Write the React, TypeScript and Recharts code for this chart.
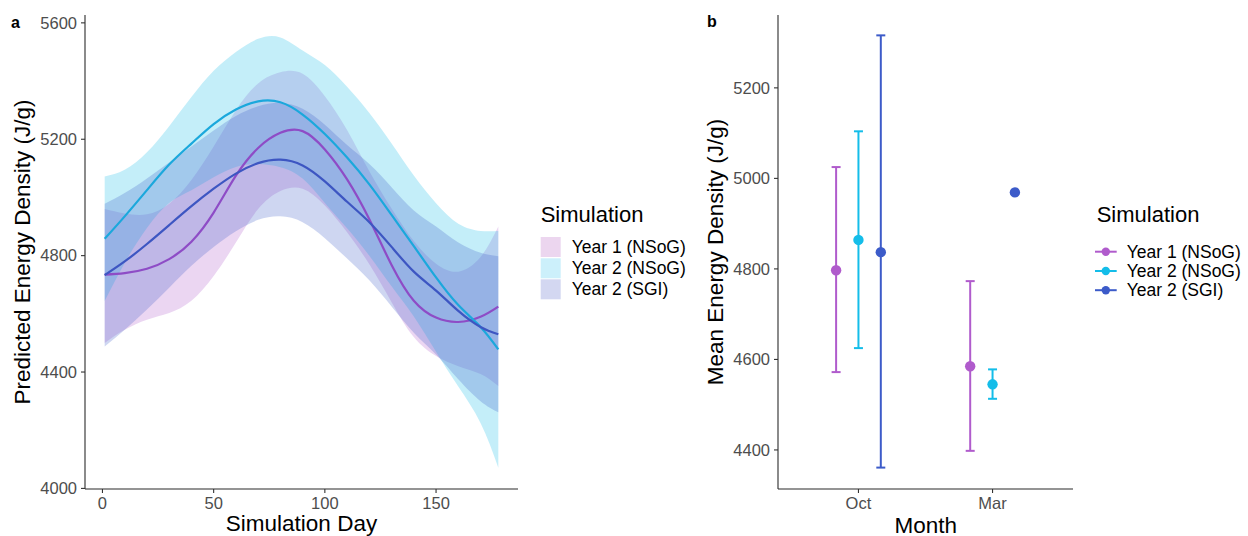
import React from "react";
import { ComposedChart, Area, Line, Scatter, ErrorBar, XAxis, YAxis } from "recharts";

const FONT = "'Liberation Sans', Arial, Helvetica, sans-serif";

// ---------- Panel a: smoothed predictions ----------
const days = [1, 10, 20, 30, 40, 50, 60, 70, 80, 90, 100, 110, 120, 130, 140, 150, 160, 170, 178];
const year1Fit = [4735, 4740, 4755, 4788, 4848, 4948, 5075, 5170, 5222, 5228, 5165, 5062, 4925, 4768, 4645, 4587, 4572, 4590, 4625];
const year1Lo = [4500, 4545, 4580, 4603, 4645, 4730, 4845, 4960, 5022, 5030, 4972, 4880, 4770, 4640, 4520, 4455, 4420, 4393, 4352];
const year1Hi = [4960, 4945, 4942, 4978, 5060, 5175, 5300, 5392, 5430, 5425, 5348, 5232, 5090, 4962, 4850, 4772, 4745, 4795, 4900];
const year2Fit = [4858, 4935, 5025, 5113, 5185, 5252, 5302, 5330, 5327, 5285, 5218, 5137, 5045, 4940, 4833, 4725, 4630, 4555, 4478];
const year2Lo = [4644, 4775, 4895, 4981, 5025, 5069, 5105, 5115, 5104, 5065, 4981, 4894, 4800, 4695, 4591, 4470, 4350, 4225, 4071];
const year2Hi = [5072, 5095, 5155, 5245, 5345, 5435, 5500, 5545, 5550, 5505, 5455, 5380, 5290, 5185, 5075, 4980, 4910, 4885, 4885];
const sgiFit = [4733, 4780, 4840, 4905, 4970, 5030, 5082, 5118, 5130, 5110, 5055, 4985, 4915, 4830, 4745, 4680, 4610, 4555, 4530];
const sgiLo = [4488, 4545, 4615, 4690, 4765, 4830, 4884, 4923, 4935, 4915, 4860, 4790, 4715, 4625, 4535, 4460, 4375, 4300, 4262];
const sgiHi = [4978, 5015, 5065, 5120, 5175, 5230, 5280, 5313, 5325, 5305, 5250, 5180, 5115, 5035, 4955, 4900, 4845, 4810, 4798];

const dayTicks = [0, 50, 100, 150];
const predTicks = [4000, 4400, 4800, 5200, 5600];

// ---------- Panel b: monthly means ----------
const months = ["Oct", "Mar"];
const year1Mean = [4797, 4585];
const year1MeanLo = [4572, 4398];
const year1MeanHi = [5025, 4773];
const year2Mean = [4864, 4545];
const year2MeanLo = [4625, 4513];
const year2MeanHi = [5104, 4578];
const sgiMean = [4837, 4969];
const sgiMeanLo: (number | null)[] = [4361, null];
const sgiMeanHi: (number | null)[] = [5316, null];
const meanTicks = [4400, 4600, 4800, 5000, 5200];

const seriesNames = ["Year 1 (NSoG)", "Year 2 (NSoG)", "Year 2 (SGI)"];
const pointColors = ["#b05bcc", "#14bde9", "#3c5bc9"];
const lineColors = ["#8e4cc6", "#1ba8dc", "#3d56c2"];
const legendFills = ["#ecd6ef", "#ccf0fb", "#d3d7f1"];

const curveRows = days.map((d, i) => ({
  day: d,
  y1: year1Fit[i],
  y1Band: [year1Lo[i], year1Hi[i]],
  y2: year2Fit[i],
  y2Band: [year2Lo[i], year2Hi[i]],
  sgi: sgiFit[i],
  sgiBand: [sgiLo[i], sgiHi[i]],
}));

const dodge = [-1 / 6, 0, 1 / 6];
function buildPoints(mean: number[], lo: (number | null)[], hi: (number | null)[], k: number) {
  return months.map((m, i) => ({
    x: i + 1 + dodge[k],
    y: mean[i],
    err: lo[i] == null || hi[i] == null ? null : [mean[i] - (lo[i] as number), (hi[i] as number) - mean[i]],
  }));
}
const pointSets = [
  buildPoints(year1Mean, year1MeanLo, year1MeanHi, 0),
  buildPoints(year2Mean, year2MeanLo, year2MeanHi, 1),
  buildPoints(sgiMean, sgiMeanLo, sgiMeanHi, 2),
];

const tickStyle = { fill: "#4d4d4d", fontSize: 16.5, fontFamily: FONT };
const axisLine = { stroke: "#2b2b2b", strokeWidth: 1.1 };
const tickLine = { stroke: "#333333", strokeWidth: 1.1 };

export default function App() {
  const bandKeys = ["y1Band", "y2Band", "sgiBand"];
  const lineKeys = ["y1", "y2", "sgi"];
  return (
    <div style={{ position: "absolute", left: 0, top: 0, width: 1248, height: 536, background: "#ffffff", fontFamily: FONT }}>
      <div style={{ position: "absolute", left: 0, top: 0 }}>
        <ComposedChart width={525} height={536} data={curveRows} margin={{ top: 15, right: 7, bottom: 0, left: 0 }}>
          <XAxis
            type="number"
            dataKey="day"
            domain={[-7.85, 186.85]}
            allowDataOverflow
            ticks={dayTicks}
            height={47}
            tickSize={4}
            tickMargin={4}
            tick={tickStyle}
            axisLine={axisLine}
            tickLine={tickLine}
          />
          <YAxis
            type="number"
            domain={[3998, 5627]}
            allowDataOverflow
            ticks={predTicks}
            width={85}
            tickSize={4}
            tickMargin={4}
            tick={tickStyle}
            axisLine={axisLine}
            tickLine={tickLine}
          />
          {bandKeys.map((k, i) => (
            <Area
              key={k}
              dataKey={k}
              type="natural"
              stroke="none"
              fill={pointColors[i]}
              fillOpacity={0.25}
              isAnimationActive={false}
              activeDot={false}
            />
          ))}
          {lineKeys.map((k, i) => (
            <Line
              key={k}
              dataKey={k}
              type="natural"
              stroke={lineColors[i]}
              strokeWidth={2.2}
              dot={false}
              activeDot={false}
              isAnimationActive={false}
            />
          ))}
        </ComposedChart>
      </div>

      <div style={{ position: "absolute", left: 690, top: 0 }}>
        <ComposedChart width={390} height={536} margin={{ top: 15, right: 7, bottom: 0, left: 0 }}>
          <XAxis
            type="number"
            dataKey="x"
            domain={[0.4, 2.6]}
            allowDataOverflow
            ticks={[1, 2]}
            tickFormatter={(v: number) => months[Math.round(v) - 1]}
            height={47}
            tickSize={4}
            tickMargin={4}
            tick={tickStyle}
            axisLine={axisLine}
            tickLine={tickLine}
          />
          <YAxis
            type="number"
            dataKey="y"
            domain={[4313.7, 5361]}
            allowDataOverflow
            ticks={meanTicks}
            width={88}
            tickSize={4}
            tickMargin={4}
            tick={tickStyle}
            axisLine={axisLine}
            tickLine={tickLine}
          />
          {pointSets.map((pts, i) => (
            <Scatter
              key={seriesNames[i]}
              name={seriesNames[i]}
              data={pts}
              isAnimationActive={false}
              shape={(p: any) => <circle cx={p.cx} cy={p.cy} r={5.2} fill={pointColors[i]} />}
            >
              <ErrorBar dataKey="err" direction="y" width={4.5} stroke={pointColors[i]} strokeWidth={2} isAnimationActive={false} />
            </Scatter>
          ))}
        </ComposedChart>
      </div>

      <svg width={1248} height={536} style={{ position: "absolute", left: 0, top: 0, pointerEvents: "none" }} fontFamily={FONT}>
        <text x={11} y={28} fontSize={16} fontWeight="bold" fill="#000">a</text>
        <text x={707} y={27} fontSize={16} fontWeight="bold" fill="#000">b</text>

        <text x={30} y={252} fontSize={22.5} fill="#000" textAnchor="middle" transform="rotate(-90, 30, 252)">
          Predicted Energy Density (J/g)
        </text>
        <text x={301.5} y={531} fontSize={22.5} fill="#000" textAnchor="middle">Simulation Day</text>

        <text x={723} y={252} fontSize={22.5} fill="#000" textAnchor="middle" transform="rotate(-90, 723, 252)">
          Mean Energy Density (J/g)
        </text>
        <text x={925.8} y={532.5} fontSize={22.5} fill="#000" textAnchor="middle">Month</text>

        <text x={540.7} y={221.7} fontSize={22} fill="#000">Simulation</text>
        {seriesNames.map((n, i) => {
          const cy = [247, 268.3, 289.3][i];
          return (
            <g key={n}>
              <rect x={540.7} y={cy - 10} width={20} height={20} fill={legendFills[i]} />
              <text x={571.7} y={cy + 6} fontSize={17.5} fill="#000">{n}</text>
            </g>
          );
        })}

        <text x={1096.7} y={222.3} fontSize={22} fill="#000">Simulation</text>
        {seriesNames.map((n, i) => {
          const cy = [251.7, 271, 290.2][i];
          return (
            <g key={n}>
              <line x1={1095} x2={1116.7} y1={cy} y2={cy} stroke={pointColors[i]} strokeWidth={2} />
              <circle cx={1105.8} cy={cy} r={4.2} fill={pointColors[i]} />
              <text x={1126.7} y={cy + 6} fontSize={17.5} fill="#000">{n}</text>
            </g>
          );
        })}
      </svg>
    </div>
  );
}
